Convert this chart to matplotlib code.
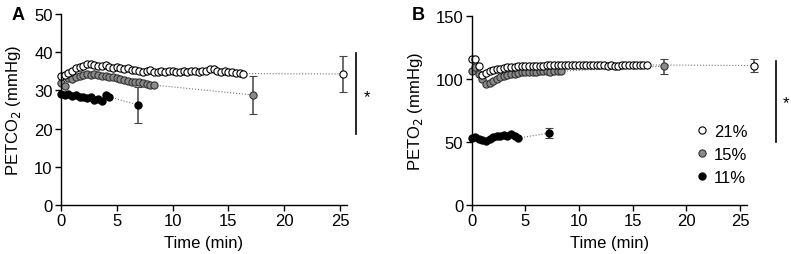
import matplotlib
matplotlib.use("Agg")
import matplotlib.pyplot as plt
import numpy as np

plt.rcParams['font.family'] = ['Liberation Sans', 'DejaVu Sans']
plt.rcParams['font.size'] = 10

# sample times (min), shared by all continuous series
time_min = [0.0, 0.33, 0.67, 1.0, 1.33, 1.67, 2.0, 2.33, 2.67, 3.0,
            3.33, 3.67, 4.0, 4.33, 4.67, 5.0, 5.33, 5.67, 6.0, 6.33,
            6.67, 7.0, 7.33, 7.67, 8.0, 8.33, 8.67, 9.0, 9.33, 9.67,
            10.0, 10.33, 10.67, 11.0, 11.33, 11.67, 12.0, 12.33, 12.67, 13.0,
            13.33, 13.67, 14.0, 14.33, 14.67, 15.0, 15.33, 15.67, 16.0, 16.33]

# panel A: PETCO2 (mmHg)
co2_21 = [33.8, 34.0, 34.6, 35.2, 35.8, 36.2, 36.5, 36.8, 37.0, 36.6,
          36.5, 36.4, 36.6, 36.2, 35.9, 36.0, 35.8, 35.7, 35.9, 35.4,
          35.3, 35.1, 34.9, 35.0, 35.3, 34.8, 34.9, 35.1, 34.8, 35.0,
          35.1, 34.9, 34.8, 35.0, 34.8, 35.1, 35.0, 34.9, 35.2, 35.0,
          35.5, 35.6, 35.2, 34.9, 35.1, 34.7, 34.8, 34.6, 34.5, 34.4]
co2_15 = [32.0, 31.2, 33.2, 33.0, 33.5, 33.8, 34.0, 34.2, 34.1, 34.2,
          34.0, 33.9, 33.7, 33.6, 33.4, 33.3, 33.0, 32.8, 32.5, 32.3,
          32.1, 32.2, 32.0, 31.8, 31.3, 31.4]
co2_11 = [29.0, 28.8, 29.0, 28.6, 28.7, 28.4, 28.3, 28.1, 28.4, 27.6,
          27.8, 27.3, 28.9, 28.3]
# end-of-exposure mean +/- SD
co2_end_t = [25.3, 17.2, 6.9]
co2_end_mean = [34.3, 28.8, 26.2]
co2_end_sd = [4.7, 4.9, 4.8]

# panel B: PETO2 (mmHg)
o2_21 = [115.5, 116.0, 110.0, 103.0, 104.5, 106.0, 107.0, 107.5, 108.0, 108.5,
         109.0, 109.5, 109.5, 110.0, 110.0, 110.0, 110.3, 110.3, 110.5, 110.5,
         110.5, 111.0, 110.8, 111.2, 111.0, 111.0, 110.8, 111.0, 111.2, 111.0,
         110.8, 111.0, 111.0, 110.8, 111.0, 111.0, 110.8, 111.0, 110.5, 110.8,
         110.0, 110.5, 110.8, 111.0, 110.8, 111.0, 111.0, 111.2, 111.0, 111.0]
o2_15 = [106.0, 109.0, 104.0, 100.0, 96.0, 96.5, 98.5, 100.0, 101.5, 102.5,
         103.0, 104.0, 104.0, 104.5, 105.0, 105.0, 105.3, 105.5, 105.5, 106.0,
         105.8, 106.0, 105.5, 106.0, 106.5, 106.0]
o2_11 = [53.0, 53.5, 52.5, 51.5, 51.0, 52.0, 53.5, 54.5, 55.0, 55.5,
         55.0, 56.0, 54.5, 53.0]
o2_end_t = [26.3, 17.9, 7.2]
o2_end_mean = [110.5, 110.0, 57.0]
o2_end_sd = [5.5, 6.0, 4.0]

labels = ['21%', '15%', '11%']
fills = ['white', '#8a8a8a', 'black']
edges = ['black', '#333333', 'black']

W, H = 791, 255
fig = plt.figure(figsize=(W / 100, H / 100), dpi=100)
axA = fig.add_axes([61 / W, 1 - 206 / H, 286 / W, 191 / H])
axB = fig.add_axes([471.7 / W, 1 - 206 / H, 275 / W, 189.3 / H])


def draw_panel(ax, series, end_t, end_mean, end_sd):
    for i, vals in reversed(list(enumerate(series))):
        t = time_min[:len(vals)]
        # dotted link from last sample to end-of-exposure point
        ax.plot([t[-1], end_t[i]], [vals[-1], end_mean[i]], ls=':', lw=0.8,
                color='#777777', zorder=1, clip_on=False)
        ax.errorbar(end_t[i], end_mean[i], yerr=end_sd[i], fmt='o',
                    ms=5.2, mfc=fills[i], mec=edges[i], mew=0.8,
                    ecolor='#444444', elinewidth=1.1, capsize=3.2, capthick=1.1,
                    zorder=3, clip_on=False)
        ax.plot(t, vals, 'o', ms=5.2, mfc=fills[i], mec=edges[i], mew=0.8,
                ls='none', label=labels[i], zorder=2, clip_on=False)
    for s in ['top', 'right']:
        ax.spines[s].set_visible(False)
    for s in ['left', 'bottom']:
        ax.spines[s].set_linewidth(1)
    ax.tick_params(direction='out', length=4, width=1, labelsize=12, pad=2)
    ax.set_xlim(0, 25.63)
    ax.set_xticks([0, 5, 10, 15, 20, 25])
    ax.set_xlabel('Time (min)', fontsize=12, labelpad=5)


draw_panel(axA, [co2_21, co2_15, co2_11], co2_end_t, co2_end_mean, co2_end_sd)
axA.set_ylim(0, 50)
axA.set_yticks([0, 10, 20, 30, 40, 50])
axA.set_ylabel('PETCO$_2$ (mmHg)', fontsize=12, labelpad=8)

draw_panel(axB, [o2_21, o2_15, o2_11], o2_end_t, o2_end_mean, o2_end_sd)
axB.set_ylim(0, 150)
axB.set_yticks([0, 50, 100, 150])
axB.set_ylabel('PETO$_2$ (mmHg)', fontsize=12, labelpad=8)

# significance bars
axA.plot([1.031, 1.031], [18.6, 39.8], color='black', lw=1.2,
         transform=axA.get_yaxis_transform(), clip_on=False)
axA.text(1.07, 28.5, '*', transform=axA.get_yaxis_transform(),
         ha='center', va='center', fontsize=12)
axB.plot([1.107, 1.107], [50, 114], color='black', lw=1.2,
         transform=axB.get_yaxis_transform(), clip_on=False)
axB.text(1.143, 81, '*', transform=axB.get_yaxis_transform(),
         ha='center', va='center', fontsize=12)

handles, lbls = axB.get_legend_handles_labels()
order = [lbls.index(l) for l in labels]
axB.legend([handles[k] for k in order], labels, loc='upper left',
           bbox_to_anchor=(0.815, 0.43), frameon=False, fontsize=12,
           handlelength=0.8, handletextpad=0.3, labelspacing=0.5,
           borderpad=0, borderaxespad=0)

fig.text(12 / W, 1 - 15 / H, 'A', fontsize=13, fontweight='bold',
         ha='left', va='center')
fig.text(412 / W, 1 - 15 / H, 'B', fontsize=13, fontweight='bold',
         ha='left', va='center')

fig.savefig('out.png', dpi=100)
